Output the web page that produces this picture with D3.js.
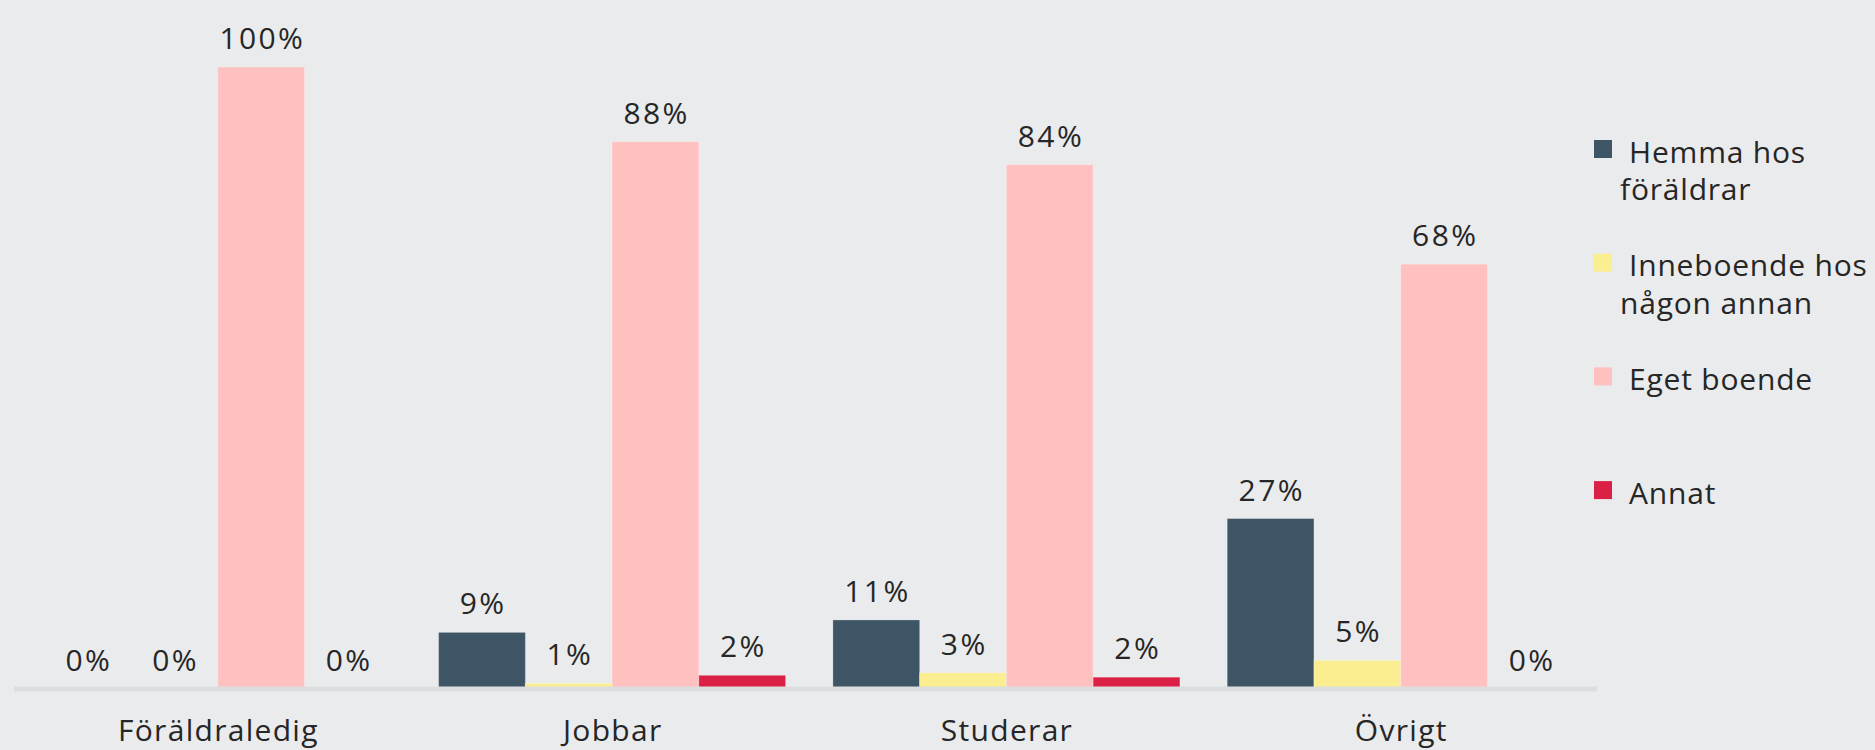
<!DOCTYPE html>
<html>
<head>
<meta charset="utf-8">
<script src="https://cdn.jsdelivr.net/npm/d3@7"></script>
<style>
  html, body { margin: 0; padding: 0; background: #eaebed; }
  svg { display: block; }
  text { font-family: "Open Sans", sans-serif; fill: #262626; }
</style>
</head>
<body>
<div id="chart"></div>
<script>
// categories and series
const categories = ['Föräldraledig', 'Jobbar', 'Studerar', 'Övrigt']
const seriesNames = ['Hemma hos föräldrar', 'Inneboende hos någon annan', 'Eget boende', 'Annat']
const legendLines = [['Hemma hos', 'föräldrar'], ['Inneboende hos', 'någon annan'], ['Eget boende'], ['Annat']]
const seriesColors = ['#3e5566', '#fbee91', '#ffc1c0', '#da2145']

// values in percent, one array per series (order follows categories)
const hemma = [0, 9.1, 11.1, 27.4]
const inneboende = [0, 0.9, 2.6, 4.6]
const eget = [100, 88.0, 84.3, 68.3]
const annat = [0, 2.2, 1.9, 0]
const series = [hemma, inneboende, eget, annat]

/**
 * draws grouped bar chart
 * @param {String} id selector of container
 * @param {Number} w width
 * @param {Number} h height
 */
function drawGroupedBars(id, w, h) {

    const svg = d3.select(id)
        .append('svg')
        .attr('width', w)
        .attr('height', h)

    svg.append('rect')
        .attr('width', w)
        .attr('height', h)
        .attr('fill', '#eaebed')

    // scales
    const x0 = d3.scaleBand()
        .domain(categories)
        .range([17.5, 1601])
        .paddingInner(0.12)
        .paddingOuter(0.068)

    const x1 = d3.scaleBand()
        .domain(d3.range(seriesNames.length))
        .range([0, x0.bandwidth()])

    const y = d3.scaleLinear()
        .domain([0, 100])
        .range([689, 67])

    // bars, one group per category
    const groups = svg.selectAll('.group')
        .data(categories)
        .enter()
        .append('g')
        .attr('class', 'group')
        .attr('transform', (d) => 'translate(' + x0(d) + ',0)')

    groups.selectAll('rect')
        .data((d, ci) => series.map((s, si) => ({ si: si, value: s[ci] })))
        .enter()
        .append('rect')
        .attr('x', (d) => x1(d.si))
        .attr('width', x1.bandwidth())
        .attr('y', (d) => y(d.value))
        .attr('height', (d) => y(0) - y(d.value))
        .attr('fill', (d) => seriesColors[d.si])
        .attr('stroke', (d) => d.value > 0 ? 'rgba(255,255,255,0.25)' : 'none')
        .attr('stroke-width', 1)

    // value labels
    groups.selectAll('.value')
        .data((d, ci) => series.map((s, si) => ({ si: si, value: s[ci] })))
        .enter()
        .append('text')
        .attr('class', 'value')
        .attr('text-anchor', 'middle')
        .attr('x', (d) => x1(d.si) + x1.bandwidth() / 2 + 1.2)
        .attr('y', (d) => y(d.value) - 18)
        .style('font-size', '30px')
        .style('letter-spacing', '2.4px')
        .text((d) => Math.round(d.value) + '%')

    // baseline
    svg.append('line')
        .attr('x1', 14)
        .attr('x2', 1597)
        .attr('y1', y(0))
        .attr('y2', y(0))
        .attr('stroke', '#dcdddf')
        .attr('stroke-width', 5)

    // category axis
    const xAxis = d3.axisBottom(x0).tickSize(0).tickPadding(0)
    const axisG = svg.append('g')
        .attr('transform', 'translate(0,' + 720 + ')')
        .call(xAxis)
    axisG.select('.domain').remove()
    axisG.selectAll('text')
        .attr('dy', '0.71em')
        .attr('dx', '0.6')
        .style('font-size', '30px')
        .style('letter-spacing', '1.3px')
        .style('font-family', '"Open Sans", sans-serif')
        .attr('fill', '#262626')

    // legend
    const legend = svg.selectAll('.legend')
        .data(seriesNames)
        .enter()
        .append('g')
        .attr('class', 'legend')
        .attr('transform', (d, i) => 'translate(1594,' + (140 + i * 113.7) + ')')

    legend.append('rect')
        .attr('width', 18)
        .attr('height', 18)
        .attr('fill', (d, i) => seriesColors[i])

    legend.each(function (d, i) {
        const t = d3.select(this).append('text')
            .style('font-size', '30px')
            .style('letter-spacing', '0.8px')
        legendLines[i].forEach((line, li) => {
            t.append('tspan')
                .attr('x', li === 0 ? 35 : 26)
                .attr('y', 22.7 + li * 37.5)
                .text(line)
        })
    })
}

drawGroupedBars('#chart', 1875, 750)
</script>
</body>
</html>
